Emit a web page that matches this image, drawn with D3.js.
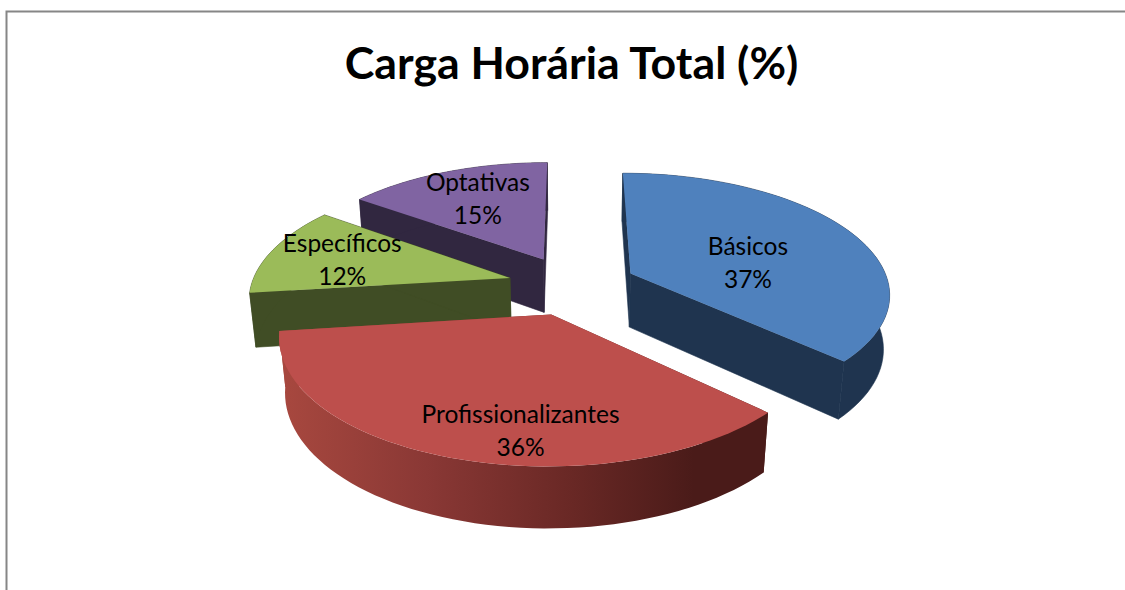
<!DOCTYPE html>
<html><head><meta charset="utf-8">
<script src="https://cdn.jsdelivr.net/npm/d3@7"></script>
<style>html,body{margin:0;padding:0;background:#fff;overflow:hidden}</style>
</head><body><svg id="c" width="1125" height="590"></svg>
<script>
const categories = ["Básicos","Profissionalizantes","Específicos","Optativas"];
const values = [37,36,12,15];
const colors = ["#4f81bd","#bd4f4c","#9bbb59","#8064a2"];
const sideColors = ["#1f344f","#4a1b19","#404d25","#312740"];
const title = "Carga Horária Total (%)";

const svg = d3.select("#c");
svg.append("rect").attr("x",6.5).attr("y",11.5).attr("width",1200).attr("height",700)
  .attr("fill","#fff").attr("stroke","#868686").attr("stroke-width",2);
svg.append("text").attr("x",571.5).attr("y",79).attr("text-anchor","middle")
  .attr("font-family","Lato, 'Open Sans', sans-serif").attr("font-weight",700)
  .attr("font-size",44.7).attr("fill","#000").text(title);

// 3D projection of the pie
const tilt = 28.4*Math.PI/180, dist = 5.845, F = 1497, cx = 572, cy = 312.5, hgt = 0.24, explode = 0.25;
const s = Math.sin(tilt), c = Math.cos(tilt);
function proj(x,y,z){
  const Yv = y*s + z*c, D = dist + y*c - z*s;
  return [cx + F*x/D, cy - F*Yv/D];
}
const pie = d3.pie().sort(null).value(d=>d)(values);
const line = d3.line();
const slices = pie.map((p,i)=>{
  const mid = (p.startAngle+p.endAngle)/2;
  const ox = explode*Math.sin(mid), oy = explode*Math.cos(mid);
  const n = 60;
  const angles = d3.range(n+1).map(k=>p.startAngle+(p.endAngle-p.startAngle)*k/n);
  const rim = z => angles.map(a=>proj(ox+Math.sin(a),oy+Math.cos(a),z));
  return {i,mid,ox,oy,apex:z=>proj(ox,oy,z),rim,depth:oy};
});
const defs = svg.append("defs");
const grad = defs.append("linearGradient").attr("id","redSide").attr("gradientUnits","userSpaceOnUse")
  .attr("x1",280).attr("x2",767).attr("y1",0).attr("y2",0);
[[0,"#a8483f"],[0.3,"#8a3835"],[0.6,"#692825"],[0.85,"#4a1b19"],[1,"#4a1b19"]]
  .forEach(([o,col])=>grad.append("stop").attr("offset",o).attr("stop-color",col));

const g = svg.append("g");
slices.slice().sort((a,b)=>b.depth-a.depth).forEach(sl=>{
  const top=sl.rim(hgt/2), bot=sl.rim(-hgt/2), n=top.length-1;
  const red = sl.i===1;
  const sideFill = red ? "url(#redSide)" : sideColors[sl.i];
  const sideStroke = red ? "none" : sideColors[sl.i];
  [0,n].forEach(k=>{
    g.append("path").attr("d",line([sl.apex(hgt/2),top[k],bot[k],sl.apex(-hgt/2)])+"Z")
     .attr("fill",sideFill).attr("stroke",sideStroke).attr("stroke-width",0.6);
  });
  g.append("path").attr("d",line(top.concat(bot.slice().reverse()))+"Z")
   .attr("fill",sideFill).attr("stroke",sideStroke).attr("stroke-width",0.6);
  g.append("path").attr("d",line([sl.apex(hgt/2),...top])+"Z").attr("fill",colors[sl.i]);
});

// labels: offsets on the pie surface, relative to each exploded slice
const labelLx = [0.478,-0.092,-0.686,-0.30];
const labelLy = [0.163,-0.745,0.233,0.675];
slices.forEach(sl=>{
  const [x,y] = proj(sl.ox+labelLx[sl.i], sl.oy+labelLy[sl.i], hgt/2);
  const t = svg.append("text").attr("text-anchor","middle")
    .attr("font-family","Lato, 'Open Sans', sans-serif").attr("font-size",24.5).attr("fill","#000");
  t.append("tspan").attr("x",x).attr("y",y).text(categories[sl.i]);
  t.append("tspan").attr("x",x).attr("y",y+33).text(values[sl.i]+"%");
});
</script></body></html>
